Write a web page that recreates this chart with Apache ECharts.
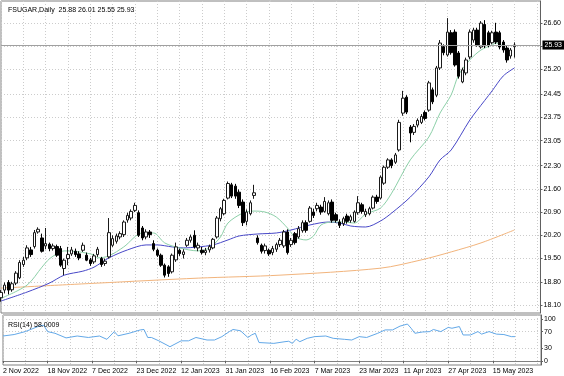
<!DOCTYPE html>
<html lang="en">
<head>
<meta charset="UTF-8">
<title>FSUGAR Daily</title>
<style>
    html, body { margin: 0; padding: 0; background: #fff; }
    #chart { width: 564px; height: 376px; }
</style>
</head>
<body>
<div id="chart"></div>
<script src="https://cdn.jsdelivr.net/npm/echarts@6/dist/echarts.min.js"></script>
<script>
// daily candles, [open, close, low, high]
const candles = [
    [18.32, 18.48, 18.20, 18.55], [18.55, 18.70, 18.45, 18.78], [18.78, 18.55, 18.42, 18.85], [18.56, 18.74, 18.50, 18.80],
    [18.76, 19.06, 18.70, 19.12], [18.92, 19.38, 18.88, 19.45], [19.32, 19.45, 19.25, 19.55], [19.52, 19.82, 19.45, 19.90],
    [19.76, 19.62, 19.55, 19.85], [19.86, 20.28, 19.80, 20.36], [20.30, 20.38, 20.25, 20.44], [20.12, 19.72, 19.68, 20.25],
    [19.88, 19.95, 19.78, 20.42], [19.93, 19.80, 19.72, 19.98], [19.80, 19.88, 19.74, 19.95], [19.86, 19.60, 19.55, 19.92],
    [19.80, 19.30, 19.25, 19.88], [19.20, 19.45, 19.00, 19.50], [19.50, 19.62, 19.30, 19.85], [19.64, 19.76, 19.58, 19.85],
    [19.72, 19.62, 19.55, 19.80], [19.64, 19.52, 19.45, 19.72], [19.75, 19.90, 19.70, 19.98], [19.60, 19.45, 19.42, 19.68],
    [19.46, 19.35, 19.28, 19.52], [19.40, 19.58, 19.34, 19.64], [19.62, 19.78, 19.55, 19.85], [19.50, 19.32, 19.25, 19.55],
    [19.35, 19.42, 19.28, 19.50], [19.55, 20.28, 19.50, 20.72], [19.90, 20.10, 19.85, 20.20], [20.02, 20.18, 19.95, 20.25],
    [20.15, 20.25, 20.08, 20.32], [20.22, 20.60, 20.15, 20.65], [20.66, 20.80, 20.58, 20.88], [20.72, 20.92, 20.65, 20.98],
    [20.95, 21.10, 20.90, 21.18], [20.88, 20.20, 20.15, 20.95], [20.42, 20.12, 20.05, 20.48], [20.15, 20.30, 20.08, 20.38],
    [20.30, 20.22, 20.12, 20.36], [19.95, 19.78, 19.72, 20.05], [19.75, 19.60, 19.55, 19.80], [19.60, 19.30, 19.25, 19.65],
    [19.30, 19.00, 18.93, 19.35], [19.25, 19.05, 18.95, 19.30], [19.10, 19.60, 19.05, 19.65], [19.46, 19.85, 19.40, 19.98],
    [19.75, 19.65, 19.58, 19.80], [19.62, 19.70, 19.50, 19.78], [19.90, 20.05, 19.85, 20.12], [20.05, 20.15, 19.98, 20.22],
    [20.20, 19.85, 19.80, 20.35], [19.82, 19.90, 19.72, 19.98], [19.75, 19.68, 19.62, 19.85], [19.68, 19.74, 19.60, 19.82],
    [19.76, 19.86, 19.68, 19.92], [19.82, 20.08, 19.78, 20.12], [20.15, 20.72, 20.10, 20.78], [20.70, 21.00, 20.62, 21.05],
    [20.85, 21.25, 20.80, 21.30], [21.32, 21.76, 21.28, 21.82], [21.72, 21.38, 21.32, 21.78], [21.68, 21.38, 21.30, 21.75],
    [21.50, 21.10, 21.02, 21.58], [21.20, 20.58, 20.48, 21.28], [20.62, 20.90, 20.50, 20.98], [20.85, 21.18, 20.80, 21.25],
    [21.40, 21.48, 21.30, 21.72], [20.12, 19.98, 19.92, 20.20], [19.90, 19.72, 19.65, 19.95], [19.74, 19.88, 19.65, 19.95],
    [19.75, 19.64, 19.58, 19.80], [19.68, 19.80, 19.60, 19.88], [19.78, 19.92, 19.70, 19.98], [19.92, 20.05, 19.85, 20.12],
    [19.88, 20.30, 19.82, 20.36], [20.30, 19.68, 19.62, 20.38], [19.92, 20.05, 19.85, 20.12], [20.25, 19.98, 19.92, 20.30],
    [20.15, 20.40, 20.10, 20.48], [20.34, 20.58, 20.28, 20.65], [20.58, 20.35, 20.28, 20.65], [20.62, 21.02, 20.58, 21.08],
    [20.90, 20.80, 20.72, 21.00], [21.00, 21.10, 20.92, 21.18], [21.05, 20.90, 20.82, 21.12], [20.92, 21.22, 20.88, 21.35],
    [20.85, 21.18, 20.80, 21.25], [21.20, 20.65, 20.58, 21.28], [20.82, 20.65, 20.58, 20.88], [20.60, 20.50, 20.42, 20.68],
    [20.55, 20.70, 20.48, 20.76], [20.78, 20.62, 20.55, 20.85], [20.65, 20.76, 20.58, 20.82], [20.62, 20.90, 20.58, 20.95],
    [20.88, 21.18, 20.82, 21.38], [21.12, 20.92, 20.85, 21.18], [20.82, 20.92, 20.75, 21.00], [20.85, 21.00, 20.80, 21.06],
    [21.02, 21.35, 20.98, 21.40], [21.35, 21.22, 21.15, 21.42], [21.32, 21.95, 21.28, 22.00], [21.77, 22.25, 21.72, 22.30],
    [22.25, 22.47, 22.20, 22.52], [22.47, 22.30, 22.22, 22.52], [22.40, 22.62, 22.35, 22.68], [22.77, 23.60, 22.72, 23.68],
    [23.88, 24.33, 23.80, 24.55], [24.36, 23.91, 23.85, 24.42], [23.46, 23.28, 23.00, 23.52], [23.30, 23.48, 23.22, 23.55],
    [23.52, 23.66, 23.45, 23.72], [23.60, 23.78, 23.55, 23.85], [23.90, 23.72, 23.66, 23.96], [23.97, 24.79, 23.92, 24.85],
    [24.58, 24.22, 24.15, 24.65], [24.42, 25.24, 24.36, 25.30], [25.24, 25.99, 25.18, 26.08], [25.88, 25.70, 25.62, 25.95],
    [25.63, 26.32, 25.58, 26.74], [26.30, 25.70, 25.64, 26.38], [26.32, 25.33, 25.28, 26.40], [25.69, 24.99, 24.92, 25.75],
    [24.82, 25.18, 24.78, 25.25], [25.09, 25.48, 25.02, 25.55], [25.57, 26.32, 25.50, 26.40], [26.08, 26.38, 26.00, 26.45],
    [26.38, 25.93, 25.88, 26.45], [25.87, 26.59, 25.82, 26.65], [26.55, 25.90, 25.84, 26.68], [26.30, 25.93, 25.86, 26.36],
    [26.00, 26.30, 25.95, 26.36], [26.32, 26.02, 25.96, 26.60], [26.30, 25.87, 25.80, 26.36], [26.02, 25.78, 25.70, 26.08],
    [25.84, 25.48, 25.40, 25.90], [25.60, 25.78, 25.52, 25.84], [25.88, 25.93, 25.55, 26.01]
];

// moving averages, [bar index, price]
const maFast = [
    [0, 18.30], [7, 18.70], [11, 19.24], [13, 19.49], [15, 19.64], [17, 19.73], [21, 19.70], [25, 19.61], [26, 19.52],
    [29, 19.58], [33, 19.85], [38, 20.27], [41, 20.27], [44, 19.97], [48, 19.82], [53, 19.73], [56, 19.82], [59, 20.15],
    [61, 20.57], [65, 20.87], [68, 20.93], [71, 20.90], [74, 20.75], [77, 20.42], [79, 20.15], [82, 20.06], [84, 20.18],
    [86, 20.51], [89, 20.60], [92, 20.60], [95, 20.57], [98, 20.84], [102, 21.02], [105, 21.47], [110, 22.47],
    [115, 23.16], [118, 23.88], [121, 24.43], [123, 25.03], [126, 25.48], [129, 25.78], [132, 25.93], [133, 25.99],
    [135, 25.90]
];
const maMid = [
    [0, 18.22], [7, 18.49], [13, 18.76], [17, 19.00], [22, 19.12], [25, 19.24], [29, 19.52], [34, 19.76], [39, 19.91],
    [42, 19.91], [46, 19.85], [49, 19.82], [53, 19.85], [57, 19.91], [61, 20.06], [64, 20.18], [69, 20.24], [74, 20.27],
    [78, 20.36], [83, 20.51], [88, 20.60], [91, 20.57], [94, 20.48], [98, 20.45], [102, 20.63], [105, 20.87],
    [110, 21.35], [115, 21.96], [118, 22.47], [121, 22.77], [126, 23.67], [128, 23.97], [132, 24.55], [135, 25.00],
    [138, 25.24]
];
const maSlow = [
    [0, 18.61], [26, 18.76], [53, 18.91], [75, 19.00], [102, 19.21], [113, 19.46], [121, 19.70], [129, 19.97], [138, 20.36]
];

// RSI(14), [bar index, value]
const rsi = [
    [0, 59.5], [3, 63], [6, 70], [10, 84], [11, 85], [12, 70], [14, 66], [17, 55], [20, 59.5], [23, 56], [26, 59.5],
    [28, 51.6], [30, 70], [31, 60], [34, 66], [37, 74], [38, 75], [39, 56], [40, 56], [42, 48], [45, 34], [48, 48],
    [50, 48], [52, 56], [55, 50], [57, 50], [59, 58], [61, 70], [62, 75], [64, 72], [66, 56], [67, 62], [68, 66],
    [69, 44], [73, 42], [76, 46], [77, 47], [78, 42], [79, 52], [80, 46], [82, 54], [84, 58], [87, 59.5], [89, 54],
    [92, 51.6], [94, 50], [96, 58], [98, 56], [101, 66], [103, 74], [105, 74], [107, 83], [109, 88], [110, 78],
    [111, 66], [113, 69], [115, 70], [116, 75], [118, 70], [120, 80], [121, 78], [123, 82], [124, 62], [126, 62],
    [128, 70], [129, 64], [131, 70], [133, 64], [135, 63], [137, 58], [138, 58]
];

const priceLabels = [18.10, 18.80, 19.50, 20.20, 20.90, 21.60, 22.30, 23.05, 23.75, 24.45, 25.20, 26.60];
const priceGrid = [18.10, 18.80, 19.50, 20.20, 20.90, 21.60, 22.30, 23.05, 23.75, 24.45, 25.20, 25.90, 26.60];
const rsiLabels = [0, 30, 70, 100];
const lastPrice = 25.93;
const titleText = 'FSUGAR,Daily  25.88 26.01 25.55 25.93';
const rsiText = 'RSI(14) 58.0009';

// trading days (exchange closed on these)
const holidays = ['2022-11-24', '2022-12-26', '2023-01-02', '2023-01-16', '2023-02-20', '2023-04-07'];
const monthNames = ['Jan', 'Feb', 'Mar', 'Apr', 'May', 'Jun', 'Jul', 'Aug', 'Sep', 'Oct', 'Nov', 'Dec'];
const slots = 146; // bars plus the empty space MT leaves on the right
const dates = [];
let d = new Date(Date.UTC(2022, 10, 2));
while (dates.length < slots) {
    const wd = d.getUTCDay();
    const iso = d.toISOString().slice(0, 10);
    if (wd !== 0 && wd !== 6 && holidays.indexOf(iso) < 0) {
        dates.push(d.getUTCDate() + ' ' + monthNames[d.getUTCMonth()] + ' ' + d.getUTCFullYear());
    }
    d.setUTCDate(d.getUTCDate() + 1);
}

const font = 'Liberation Sans';
const lastBar = candles.length - 1;
// a date label every 12 bars, only under bars that exist
const showDate = function (i) { return i % 12 === 0 && i <= lastBar; };
const gridLine = { show: true, interval: 5, lineStyle: { color: '#cccccc', type: [1, 2], width: 1 } };

var myChart = echarts.init(document.getElementById('chart'), null, { renderer: 'canvas' });
var option = {
    animation: false,
    backgroundColor: '#ffffff',
    textStyle: { fontFamily: font },
    title: [
        { text: titleText, left: 3, top: 2, textStyle: { fontSize: 7, fontWeight: 'normal', color: '#000', fontFamily: font } },
        { text: rsiText, left: 3, top: 317, textStyle: { fontSize: 7, fontWeight: 'normal', color: '#000', fontFamily: font } }
    ],
    grid: [
        { left: 1, right: 23, top: 1, height: 312, show: true, borderColor: '#808080', borderWidth: 1, backgroundColor: 'transparent' },
        { left: 1, right: 23, top: 315, height: 50, show: true, borderColor: '#808080', borderWidth: 1, backgroundColor: 'transparent' }
    ],
    xAxis: [
        {
            type: 'category', gridIndex: 0, data: dates, boundaryGap: false,
            axisLine: { show: false }, axisTick: { show: false }, axisLabel: { show: false },
            splitLine: gridLine
        },
        {
            type: 'category', gridIndex: 1, data: dates, boundaryGap: false,
            axisLine: { show: true, lineStyle: { color: '#808080' } },
            axisTick: { show: true, interval: showDate, length: 2, lineStyle: { color: '#606060' } },
            axisLabel: { interval: showDate, fontSize: 7, color: '#000', margin: 3, align: 'left', fontFamily: font },
            splitLine: gridLine
        }
    ],
    yAxis: [
        {
            type: 'value', gridIndex: 0, position: 'right', min: 17.86, max: 27.256,
            axisLine: { show: true, lineStyle: { color: '#606060' } },
            axisTick: { show: true, length: 2, customValues: priceGrid, lineStyle: { color: '#606060' } },
            axisLabel: {
                customValues: priceLabels, fontSize: 7, color: '#000', margin: 3, fontFamily: font,
                formatter: function (v) { return v.toFixed(2); }
            },
            splitLine: { show: true, lineStyle: { color: '#cccccc', type: [1, 2], width: 1 } }
        },
        {
            type: 'value', gridIndex: 1, position: 'right', min: -9.5, max: 109.5,
            axisLine: { show: true, lineStyle: { color: '#606060' } },
            axisTick: { show: true, length: 2, customValues: rsiLabels, lineStyle: { color: '#606060' } },
            axisLabel: { customValues: rsiLabels, fontSize: 7, color: '#000', margin: 3, fontFamily: font },
            splitLine: { show: true, lineStyle: { color: '#cccccc', type: [1, 2], width: 1 } }
        }
    ],
    series: [
        {
            name: 'MA slow', type: 'line', xAxisIndex: 0, yAxisIndex: 0, data: maSlow,
            showSymbol: false, smooth: 0.3, lineStyle: { color: '#f2b47c', width: 1 }, z: 2
        },
        {
            name: 'MA mid', type: 'line', xAxisIndex: 0, yAxisIndex: 0, data: maMid,
            showSymbol: false, smooth: 0.3, lineStyle: { color: '#4848c8', width: 1 }, z: 2
        },
        {
            name: 'MA fast', type: 'line', xAxisIndex: 0, yAxisIndex: 0, data: maFast,
            showSymbol: false, smooth: 0.3, lineStyle: { color: '#8cd0a8', width: 1 }, z: 2
        },
        {
            name: 'FSUGAR', type: 'candlestick', xAxisIndex: 0, yAxisIndex: 0, data: candles,
            barWidth: 3, z: 3,
            itemStyle: { color: '#ffffff', color0: '#000000', borderColor: '#1a1a1a', borderColor0: '#000000', borderWidth: 1 },
            markLine: {
                silent: true, symbol: 'none', animation: false,
                lineStyle: { color: '#a0a0a0', type: 'solid', width: 1 },
                label: {
                    show: true, position: 'end', distance: 2, formatter: lastPrice.toFixed(2),
                    backgroundColor: '#000', color: '#fff', fontSize: 7, padding: [1, 2], fontFamily: font
                },
                data: [{ yAxis: lastPrice }]
            }
        },
        {
            name: 'RSI', type: 'line', xAxisIndex: 1, yAxisIndex: 1, data: rsi,
            showSymbol: false, lineStyle: { color: '#62a8e8', width: 1 }
        }
    ]
};
myChart.setOption(option);
</script>
</body>
</html>
